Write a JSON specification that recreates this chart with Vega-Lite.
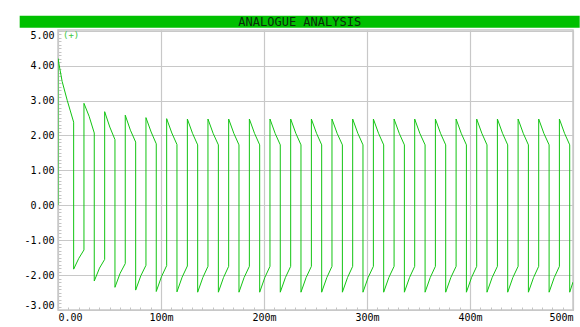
{
  "$schema": "https://vega.github.io/schema/vega-lite/v6.json",
  "background": "#ffffff",
  "padding": {"left": 19, "top": 15, "right": 1, "bottom": 0},
  "config": {"view": {"stroke": null}},
  "width": 515,
  "height": 280,
  "view": {"stroke": "#c8c8c8", "strokeWidth": 1.5},
  "datasets": {
    "trace": [
      {"t": 0, "v": 0}, {"t": 0, "v": 4.2}, {"t": 4, "v": 3.55}, {"t": 9, "v": 3.0}, {"t": 15.2, "v": 2.38}, {"t": 15.2, "v": -1.83}, {"t": 20.2, "v": -1.52},
      {"t": 25.2, "v": -1.28}, {"t": 25.2, "v": 2.92}, {"t": 30.2, "v": 2.55}, {"t": 35.2, "v": 2.07}, {"t": 35.2, "v": -2.17}, {"t": 40.3, "v": -1.8},
      {"t": 45.3, "v": -1.55}, {"t": 45.3, "v": 2.68}, {"t": 50.3, "v": 2.24}, {"t": 55.3, "v": 1.88}, {"t": 55.3, "v": -2.35}, {"t": 60.3, "v": -1.95},
      {"t": 65.3, "v": -1.67}, {"t": 65.3, "v": 2.58}, {"t": 70.3, "v": 2.15}, {"t": 75.4, "v": 1.81}, {"t": 75.4, "v": -2.43}, {"t": 80.4, "v": -2.02},
      {"t": 85.4, "v": -1.72}, {"t": 85.4, "v": 2.51}, {"t": 90.4, "v": 2.1}, {"t": 95.4, "v": 1.76}, {"t": 95.4, "v": -2.47}, {"t": 100.4, "v": -2.05},
      {"t": 105.5, "v": -1.73}, {"t": 105.5, "v": 2.48}, {"t": 110.5, "v": 2.07}, {"t": 115.5, "v": 1.74}, {"t": 115.5, "v": -2.48}, {"t": 120.5, "v": -2.06},
      {"t": 125.6, "v": -1.74}, {"t": 125.6, "v": 2.47}, {"t": 130.6, "v": 2.06}, {"t": 135.6, "v": 1.73}, {"t": 135.6, "v": -2.49}, {"t": 140.6, "v": -2.07},
      {"t": 145.6, "v": -1.75}, {"t": 145.6, "v": 2.47}, {"t": 150.6, "v": 2.06}, {"t": 155.7, "v": 1.73}, {"t": 155.7, "v": -2.49}, {"t": 160.7, "v": -2.07},
      {"t": 165.7, "v": -1.75}, {"t": 165.7, "v": 2.47}, {"t": 170.7, "v": 2.06}, {"t": 175.7, "v": 1.73}, {"t": 175.7, "v": -2.49}, {"t": 180.7, "v": -2.07},
      {"t": 185.8, "v": -1.75}, {"t": 185.8, "v": 2.47}, {"t": 190.8, "v": 2.06}, {"t": 195.8, "v": 1.73}, {"t": 195.8, "v": -2.49}, {"t": 200.8, "v": -2.07},
      {"t": 205.8, "v": -1.75}, {"t": 205.8, "v": 2.47}, {"t": 210.8, "v": 2.06}, {"t": 215.8, "v": 1.73}, {"t": 215.8, "v": -2.49}, {"t": 220.8, "v": -2.07},
      {"t": 225.9, "v": -1.75}, {"t": 225.9, "v": 2.47}, {"t": 230.9, "v": 2.06}, {"t": 235.9, "v": 1.73}, {"t": 235.9, "v": -2.49}, {"t": 240.9, "v": -2.07},
      {"t": 246.0, "v": -1.75}, {"t": 246.0, "v": 2.47}, {"t": 251.0, "v": 2.06}, {"t": 256.0, "v": 1.73}, {"t": 256.0, "v": -2.49}, {"t": 261.0, "v": -2.07},
      {"t": 266.0, "v": -1.75}, {"t": 266.0, "v": 2.47}, {"t": 271.0, "v": 2.06}, {"t": 276.1, "v": 1.73}, {"t": 276.1, "v": -2.49}, {"t": 281.1, "v": -2.07},
      {"t": 286.1, "v": -1.75}, {"t": 286.1, "v": 2.47}, {"t": 291.1, "v": 2.06}, {"t": 296.1, "v": 1.73}, {"t": 296.1, "v": -2.49}, {"t": 301.1, "v": -2.07},
      {"t": 306.2, "v": -1.75}, {"t": 306.2, "v": 2.47}, {"t": 311.2, "v": 2.06}, {"t": 316.2, "v": 1.73}, {"t": 316.2, "v": -2.49}, {"t": 321.2, "v": -2.07},
      {"t": 326.3, "v": -1.75}, {"t": 326.3, "v": 2.47}, {"t": 331.3, "v": 2.06}, {"t": 336.3, "v": 1.73}, {"t": 336.3, "v": -2.49}, {"t": 341.3, "v": -2.07},
      {"t": 346.3, "v": -1.75}, {"t": 346.3, "v": 2.47}, {"t": 351.3, "v": 2.06}, {"t": 356.4, "v": 1.73}, {"t": 356.4, "v": -2.49}, {"t": 361.4, "v": -2.07},
      {"t": 366.4, "v": -1.75}, {"t": 366.4, "v": 2.47}, {"t": 371.4, "v": 2.06}, {"t": 376.4, "v": 1.73}, {"t": 376.4, "v": -2.49}, {"t": 381.4, "v": -2.07},
      {"t": 386.5, "v": -1.75}, {"t": 386.5, "v": 2.47}, {"t": 391.5, "v": 2.06}, {"t": 396.5, "v": 1.73}, {"t": 396.5, "v": -2.49}, {"t": 401.5, "v": -2.07},
      {"t": 406.5, "v": -1.75}, {"t": 406.5, "v": 2.47}, {"t": 411.5, "v": 2.06}, {"t": 416.5, "v": 1.73}, {"t": 416.5, "v": -2.49}, {"t": 421.5, "v": -2.07},
      {"t": 426.6, "v": -1.75}, {"t": 426.6, "v": 2.47}, {"t": 431.6, "v": 2.06}, {"t": 436.6, "v": 1.73}, {"t": 436.6, "v": -2.49}, {"t": 441.6, "v": -2.07},
      {"t": 446.7, "v": -1.75}, {"t": 446.7, "v": 2.47}, {"t": 451.7, "v": 2.06}, {"t": 456.7, "v": 1.73}, {"t": 456.7, "v": -2.49}, {"t": 461.7, "v": -2.07},
      {"t": 466.7, "v": -1.75}, {"t": 466.7, "v": 2.47}, {"t": 471.7, "v": 2.06}, {"t": 476.8, "v": 1.73}, {"t": 476.8, "v": -2.49}, {"t": 481.8, "v": -2.07},
      {"t": 486.8, "v": -1.75}, {"t": 486.8, "v": 2.47}, {"t": 491.8, "v": 2.06}, {"t": 496.8, "v": 1.73}, {"t": 496.8, "v": -2.49}, {"t": 500, "v": -2.2}
    ],
    "banner": [
      {"label": "ANALOGUE ANALYSIS", "t0": -37.2, "t1": 506.5, "tc": 234.7, "v0": 5.086, "v1": 5.43, "vc": 5.255}
    ]
  },
  "resolve": {"axis": {"x": "independent", "y": "independent"}},
  "layer": [
    {
      "data": {"name": "trace"},
      "mark": {"type": "line", "opacity": 0},
      "encoding": {
        "x": {"field": "t", "type": "quantitative", "scale": {"domain": [0, 500], "nice": false, "zero": false},
          "axis": {"orient": "bottom", "title": null, "labels": false, "grid": false, "domain": false, "tickSize": -3, "tickColor": "#c4c4c4",
            "values": [0,10,20,30,40,50,60,70,80,90,100,110,120,130,140,150,160,170,180,190,200,210,220,230,240,250,260,270,280,290,300,310,320,330,340,350,360,370,380,390,400,410,420,430,440,450,460,470,480,490,500]}},
        "y": {"field": "v", "type": "quantitative", "scale": {"domain": [-3, 5.02], "nice": false, "zero": false},
          "axis": {"orient": "left", "title": null, "labels": false, "grid": false, "domain": false, "tickSize": -3, "tickColor": "#c4c4c4", "minExtent": 38, "maxExtent": 38,
            "values": [-3,-2.9,-2.8,-2.7,-2.6,-2.5,-2.4,-2.3,-2.2,-2.1,-2,-1.9,-1.8,-1.7,-1.6,-1.5,-1.4,-1.3,-1.2,-1.1,-1,-0.9,-0.8,-0.7,-0.6,-0.5,-0.4,-0.3,-0.2,-0.1,0,0.1,0.2,0.3,0.4,0.5,0.6,0.7,0.8,0.9,1,1.1,1.2,1.3,1.4,1.5,1.6,1.7,1.8,1.9,2,2.1,2.2,2.3,2.4,2.5,2.6,2.7,2.8,2.9,3,3.1,3.2,3.3,3.4,3.5,3.6,3.7,3.8,3.9,4,4.1,4.2,4.3,4.4,4.5,4.6,4.7,4.8,4.9,5]}},
        "order": {"value": null}
      }
    },
    {
      "data": {"name": "trace"},
      "mark": {"type": "line", "color": "#12c412", "strokeWidth": 1, "clip": true},
      "encoding": {
        "x": {"field": "t", "type": "quantitative", "scale": {"domain": [0, 500], "nice": false, "zero": false},
          "axis": {"orient": "bottom", "title": null, "values": [0, 100, 200, 300, 400, 500], "labelFlush": true,
            "labelExpr": "datum.value == 0 ? '0.00' : datum.value + 'm'",
            "labelFont": "DejaVu Sans Mono", "labelFontSize": 10, "labelColor": "#000000", "labelPadding": 2,
            "tickSize": 0, "domain": true, "domainColor": "#c8c8c8", "grid": true, "gridColor": "#c8c8c8", "gridWidth": 1.2}},
        "y": {"field": "v", "type": "quantitative", "scale": {"domain": [-3, 5.02], "nice": false, "zero": false},
          "axis": {"orient": "left", "title": null, "values": [-3, -2, -1, 0, 1, 2, 3, 4, 5], "labelFlush": true,
            "labelExpr": "replace(format(datum.value, '.2f'), '\u2212', '-')",
            "labelFont": "DejaVu Sans Mono", "labelFontSize": 10, "labelColor": "#000000", "labelPadding": 4,
            "tickSize": 0, "domain": true, "domainColor": "#c8c8c8", "grid": true, "gridColor": "#c8c8c8", "gridWidth": 1.2,
            "minExtent": 38, "maxExtent": 38}},
        "order": {"value": null}
      }
    },
    {
      "data": {"name": "banner"},
      "mark": {"type": "rect", "color": "#00c000", "clip": false},
      "encoding": {
        "x": {"field": "t0", "type": "quantitative", "axis": null, "scale": {"domain": [0, 500], "nice": false, "zero": false}},
        "x2": {"field": "t1"},
        "y": {"field": "v0", "type": "quantitative", "axis": null, "scale": {"domain": [-3, 5.02], "nice": false, "zero": false}},
        "y2": {"field": "v1"}
      }
    },
    {
      "data": {"name": "banner"},
      "mark": {"type": "text", "font": "DejaVu Sans Mono", "fontSize": 12, "color": "#0b2a0b", "align": "center", "baseline": "middle", "clip": false},
      "encoding": {
        "x": {"field": "tc", "type": "quantitative", "axis": null, "scale": {"domain": [0, 500], "nice": false, "zero": false}},
        "y": {"field": "vc", "type": "quantitative", "axis": null, "scale": {"domain": [-3, 5.02], "nice": false, "zero": false}},
        "text": {"field": "label"}
      }
    },
    {
      "data": {"values": [{"tag": "(+)"}]},
      "mark": {"type": "text", "font": "DejaVu Sans Mono", "fontSize": 9, "color": "#3cc83c", "align": "left", "baseline": "top", "dx": 5, "dy": 1},
      "encoding": {
        "x": {"datum": 0, "type": "quantitative", "axis": null},
        "y": {"datum": 5.02, "type": "quantitative", "axis": null},
        "text": {"field": "tag"}
      }
    }
  ]
}
